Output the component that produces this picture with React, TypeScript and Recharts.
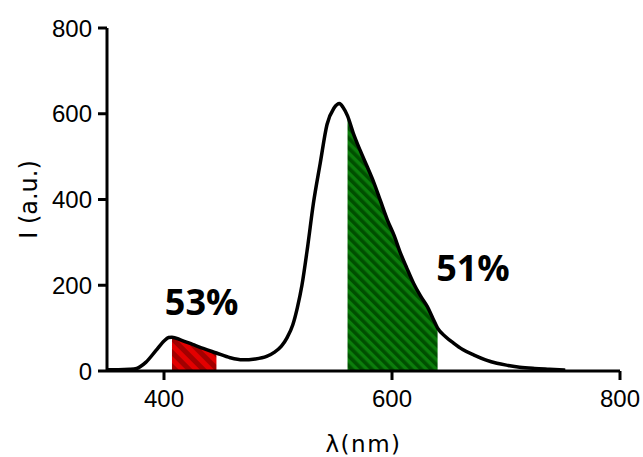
import React from "react";
import {
  ComposedChart,
  Area,
  Line,
  XAxis,
  YAxis,
  ReferenceDot,
} from "recharts";

// emission spectrum
const wavelength = [
  350, 360, 370, 376, 384, 393, 400, 404, 407, 415, 425, 435, 446, 458, 469,
  480, 490, 497, 503, 508, 513, 517, 521, 526, 531, 537, 543, 549, 554, 557,
  561, 566, 572, 578, 584, 590, 596, 602, 607, 613, 619, 625, 631, 636, 640,
  647, 654, 662, 672, 682, 692, 702, 712, 725, 738, 752,
];
const intensity = [
  3, 3, 4, 6, 20, 48, 70, 78, 79, 72, 62, 52, 42, 31, 26,
  28, 34, 44, 58, 78, 108, 148, 200, 290, 390, 484, 575, 613, 624, 615,
  595, 555, 515, 478, 440, 396, 352, 315, 278, 240, 204, 175, 150, 122, 100,
  80, 65, 50, 37, 26, 18, 13, 9, 6, 4, 2,
];

// integrated bands (nm)
const redBand = [407, 446];
const greenBand = [561, 640];

const xTicks = [400, 600, 800];
const yTicks = [0, 200, 400, 600, 800];

const bandLabels = ["53%", "51%"];
const bandLabelX = [433, 671];
const bandLabelY = [161, 240];

const inBand = (x: number, band: number[]) => x >= band[0] && x <= band[1];

const data = wavelength.map((x, i) => ({
  x,
  y: intensity[i],
  red: inBand(x, redBand) ? intensity[i] : null,
  green: inBand(x, greenBand) ? intensity[i] : null,
}));

const tickFont = { fill: "#000", fontSize: 24, fontFamily: "Liberation Sans" };

export default function App() {
  return (
    <div
      style={{
        position: "absolute",
        left: 0,
        top: 0,
        width: 643,
        height: 457,
        background: "#fff",
      }}
    >
      <ComposedChart
        width={643}
        height={457}
        data={data}
        margin={{ top: 28, right: 23, bottom: 0, left: 0 }}
      >
        <defs>
          <pattern
            id="redHatch"
            patternUnits="userSpaceOnUse"
            width="10"
            height="10"
            patternTransform="rotate(-45)"
          >
            <rect width="10" height="10" fill="#e30000" />
            <rect width="5" height="10" fill="#a20000" />
          </pattern>
          <pattern
            id="greenHatch"
            patternUnits="userSpaceOnUse"
            width="7"
            height="7"
            patternTransform="rotate(-45)"
          >
            <rect width="7" height="7" fill="#0b7d0b" />
            <rect width="3.6" height="7" fill="#004f00" />
          </pattern>
        </defs>
        <XAxis
          type="number"
          dataKey="x"
          domain={[350, 800]}
          ticks={xTicks}
          height={86}
          tickSize={9}
          tickMargin={10}
          axisLine={{ stroke: "#000", strokeWidth: 3 }}
          tickLine={{ stroke: "#000", strokeWidth: 3 }}
          tick={tickFont}
          label={{
            value: "λ(nm)",
            position: "insideBottom",
            offset: 5,
            fill: "#000",
            fontSize: 23,
            fontFamily: "DejaVu Sans",
            letterSpacing: 1.5,
          }}
        />
        <YAxis
          type="number"
          domain={[0, 800]}
          ticks={yTicks}
          width={107}
          tickSize={9}
          tickMargin={6}
          axisLine={{ stroke: "#000", strokeWidth: 3 }}
          tickLine={{ stroke: "#000", strokeWidth: 3 }}
          tick={tickFont}
          label={{
            value: "I (a.u.)",
            angle: -90,
            position: "insideLeft",
            offset: 28,
            fill: "#000",
            fontSize: 24,
            fontFamily: "DejaVu Sans",
            style: { textAnchor: "middle" },
          }}
        />
        <Area
          type="monotone"
          dataKey="red"
          stroke="none"
          fill="url(#redHatch)"
          fillOpacity={1}
          baseValue={0}
          isAnimationActive={false}
        />
        <Area
          type="monotone"
          dataKey="green"
          stroke="none"
          fill="url(#greenHatch)"
          fillOpacity={1}
          baseValue={0}
          isAnimationActive={false}
        />
        <Line
          type="monotone"
          dataKey="y"
          stroke="#000"
          strokeWidth={3.5}
          dot={false}
          activeDot={false}
          isAnimationActive={false}
        />
        {bandLabels.map((t, i) => (
          <ReferenceDot
            key={t}
            x={bandLabelX[i]}
            y={bandLabelY[i]}
            r={0}
            fill="none"
            stroke="none"
            ifOverflow="visible"
            label={{
              value: t,
              position: "center",
              fill: "#000",
              fontSize: 36,
              fontWeight: 700,
              fontFamily: "Open Sans",
            }}
          />
        ))}
      </ComposedChart>
    </div>
  );
}
